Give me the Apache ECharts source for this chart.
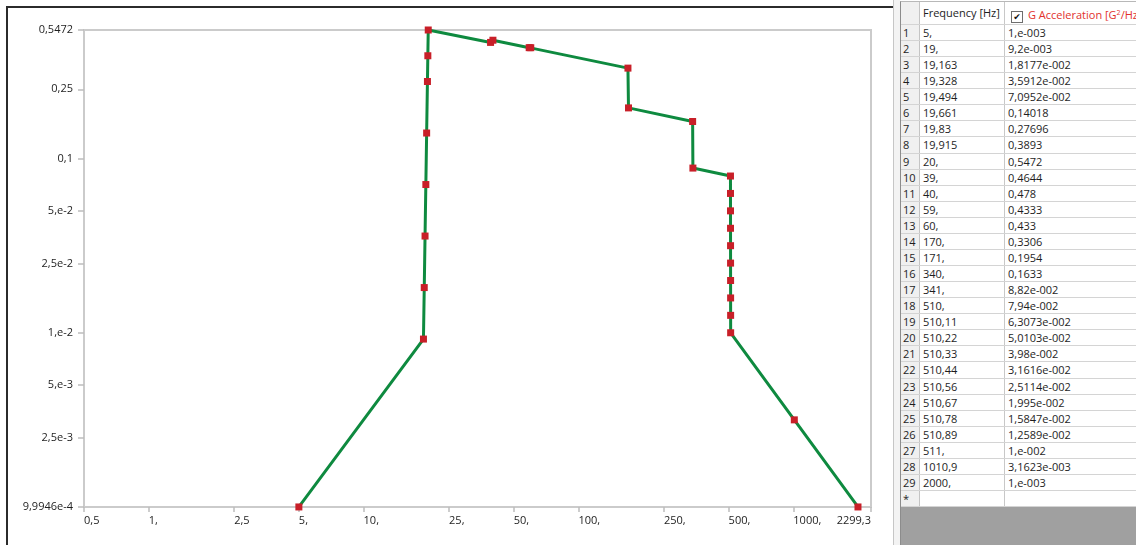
<!DOCTYPE html>
<html>
<head>
<meta charset="utf-8">
<script src="https://cdn.jsdelivr.net/npm/echarts@6/dist/echarts.min.js"></script>
<style>
  html, body { margin: 0; padding: 0; width: 1136px; height: 545px; overflow: hidden; background: #fff; font-family: "Open Sans", sans-serif; }
  #chart { position: absolute; left: 0; top: 0; width: 893px; height: 545px; }
  #frame { position: absolute; left: 6px; top: 6px; width: 887px; height: 539px; border-left: 2px solid #2b2b2b; border-top: 2px solid #2b2b2b; box-sizing: border-box; pointer-events: none; }
  #splitter { position: absolute; left: 893px; top: 0; width: 7px; height: 545px; background: #f3f3f3; border-left: 1px solid #c6c6c6; box-sizing: border-box; }
  #grid { position: absolute; left: 900px; top: 1px; width: 236px; height: 544px; background: #a0a0a0; overflow: hidden; font-size: 11px; color: #1e1e1e; border-left: 1px solid #8c8c8c; border-top: 1px solid #b8b8b8; box-sizing: border-box; }
  .row { position: absolute; left: 0; width: 240px; background: #fff; border-bottom: 1px solid #d4d4d4; box-sizing: border-box; white-space: nowrap; }
  .cell { position: absolute; top: 0; bottom: 0; box-sizing: border-box; line-height: 15px; overflow: hidden; }
  .rh { left: 0; width: 19px; background: #f0f0f0; border-right: 1px solid #c4c4c4; padding-left: 2px; }
  .c1 { left: 19px; width: 85px; border-right: 1px solid #c8c8c8; padding-left: 3px; }
  .c2 { left: 104px; width: 140px; padding-left: 3px; }
  .hdr .c2 { color: #e2312c; padding-left: 6px; }
  .chk { display: inline-block; width: 10px; height: 10px; border: 1px solid #6e6e6e; font-size: 9px; line-height: 10px; text-align: center; vertical-align: -1px; margin-right: 5px; color: #111; font-family: "DejaVu Sans", sans-serif; }
  sup { font-size: 7px; vertical-align: 4px; }
</style>
</head>
<body>
<div id="chart"></div>
<div id="frame"></div>
<div id="splitter"></div>
<div id="grid"></div>
<script>
// PSD profile: frequency breakpoints [Hz] and acceleration density [G²/Hz]
const frequencies = [5, 19, 19.163, 19.328, 19.494, 19.661, 19.83, 19.915, 20, 39, 40, 59, 60,
  170, 171, 340, 341, 510, 510.11, 510.22, 510.33, 510.44, 510.56, 510.67, 510.78, 510.89, 511,
  1010.9, 2000];
const accelerations = [1e-3, 9.2e-3, 1.8177e-2, 3.5912e-2, 7.0952e-2, 0.14018, 0.27696, 0.3893,
  0.5472, 0.4644, 0.478, 0.4333, 0.433, 0.3306, 0.1954, 0.1633, 8.82e-2, 7.94e-2, 6.3073e-2,
  5.0103e-2, 3.98e-2, 3.1616e-2, 2.5114e-2, 1.995e-2, 1.5847e-2, 1.2589e-2, 1e-2, 3.1623e-3, 1e-3];

// Axis ticks and their labels
const xTicks = [0.5, 1, 2.5, 5, 10, 25, 50, 100, 250, 500, 1000, 2299.3];
const xTickLabels = ['0,5', '1,', '2,5', '5,', '10,', '25,', '50,', '100,', '250,', '500,', '1000,', '2299,3'];
const yTicks = [9.9946e-4, 2.5e-3, 5e-3, 1e-2, 2.5e-2, 5e-2, 0.1, 0.25, 0.5472];
const yTickLabels = ['9,9946e-4', '2,5e-3', '5,e-3', '1,e-2', '2,5e-2', '5,e-2', '0,1', '0,25', '0,5472'];

const columnHeaders = ['Frequency [Hz]', 'G Acceleration [G<sup>2</sup>/Hz]'];

function nearestLabel(value, ticks, labels) {
  let best = 0, bestD = Infinity;
  ticks.forEach((t, i) => {
    const d = Math.abs(Math.log(value) - Math.log(t));
    if (d < bestD) { bestD = d; best = i; }
  });
  return labels[best];
}

const chart = echarts.init(document.getElementById('chart'), null, { renderer: 'canvas' });
const labelFont = { fontFamily: 'Open Sans', fontSize: 11, color: '#1e1e1e' };

chart.setOption({
  animation: false,
  backgroundColor: '#fff',
  grid: {
    left: 84, right: 22, top: 30, bottom: 38,
    show: true, borderColor: '#cbcbcb', borderWidth: 2, backgroundColor: '#fff'
  },
  xAxis: {
    type: 'log',
    min: xTicks[0],
    max: xTicks[xTicks.length - 1],
    axisLine: { lineStyle: { color: '#cbcbcb', width: 2 } },
    axisTick: { show: true, length: 5, customValues: xTicks, lineStyle: { color: '#bdbdbd', width: 1.5 } },
    axisLabel: Object.assign({
      customValues: xTicks,
      margin: 8,
      align: 'left',
      alignMaxLabel: 'right',
      formatter: v => nearestLabel(v, xTicks, xTickLabels)
    }, labelFont),
    splitLine: { show: false },
    minorTick: { show: false }
  },
  yAxis: {
    type: 'log',
    min: yTicks[0],
    max: yTicks[yTicks.length - 1],
    axisLine: { show: true, lineStyle: { color: '#cbcbcb', width: 2 } },
    axisTick: { show: true, length: 6, customValues: yTicks, lineStyle: { color: '#bdbdbd', width: 1.5 } },
    axisLabel: Object.assign({
      customValues: yTicks,
      margin: 11,
      formatter: v => nearestLabel(v, yTicks, yTickLabels)
    }, labelFont),
    splitLine: { show: false },
    minorTick: { show: false }
  },
  series: [{
    type: 'line',
    data: frequencies.map((f, i) => [f, accelerations[i]]),
    symbol: 'rect',
    symbolSize: 7,
    showAllSymbol: true,
    lineStyle: { color: '#0e8a3f', width: 3 },
    itemStyle: { color: '#c81f28', borderWidth: 0 },
    emphasis: { disabled: true },
    clip: false
  }]
});

// Data table beside the plot
function fmtFreq(v) {
  return Number.isInteger(v) ? v + ',' : String(v).replace('.', ',');
}
function fmtAccel(v) {
  if (v >= 0.1) return String(v).replace('.', ',');
  const parts = v.toExponential().split('e');
  let mant = parts[0].replace('.', ',');
  if (mant.indexOf(',') < 0) mant += ',';
  const exp = parseInt(parts[1], 10);
  const expStr = (exp < 0 ? '-' : '+') + String(Math.abs(exp)).padStart(3, '0');
  return mant + 'e' + expStr;
}

const grid = document.getElementById('grid');
const rowPitch = 16.07;
function addRow(top, height, rh, c1, c2, cls) {
  const r = document.createElement('div');
  r.className = 'row' + (cls ? ' ' + cls : '');
  r.style.top = top + 'px';
  r.style.height = height + 'px';
  r.innerHTML = '<div class="cell rh">' + rh + '</div><div class="cell c1">' + c1 + '</div><div class="cell c2">' + c2 + '</div>';
  grid.appendChild(r);
  return r;
}
const hdr = addRow(0, 23, '', columnHeaders[0], '<span class="chk">\u2714</span>' + columnHeaders[1], 'hdr');
hdr.querySelectorAll('.cell').forEach(c => { c.style.lineHeight = '22px'; });
const rowCount = frequencies.length + 1;
for (let i = 0; i < rowCount; i++) {
  const top = Math.round(23 + i * rowPitch);
  const next = Math.round(23 + (i + 1) * rowPitch);
  if (i < frequencies.length) {
    addRow(top, next - top, String(i + 1), fmtFreq(frequencies[i]), fmtAccel(accelerations[i]));
  } else {
    addRow(top, next - top, '*', '', '');
  }
}
</script>
</body>
</html>
